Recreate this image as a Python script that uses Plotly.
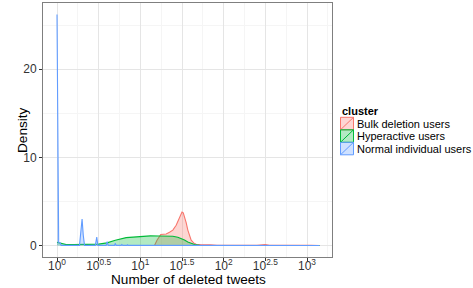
import plotly.graph_objects as go

# ---------------- data (x in log10 of number of deleted tweets) ----------------
clusters = ["Bulk deletion users", "Hyperactive users", "Normal individual users"]
colors = ["#F8766D", "#00BA38", "#619CFF"]
fills = ["rgba(248,118,109,0.3)", "rgba(0,186,56,0.3)", "rgba(97,156,255,0.3)"]

bulk_logx = [1.17, 1.20, 1.245, 1.28, 1.31, 1.35, 1.39, 1.43, 1.46, 1.48, 1.50, 1.515,
             1.53, 1.55, 1.57, 1.59, 1.61, 1.64, 1.67, 1.72, 1.78, 1.84, 1.92, 2.0, 2.1,
             2.2, 2.3, 2.4, 2.47, 2.5, 2.55, 2.65, 2.8, 2.95, 3.05, 3.15]
bulk_density = [0.0, 0.6, 1.25, 1.3, 1.3, 1.5, 1.75, 2.3, 3.0, 3.5, 3.8, 3.7,
                3.25, 2.6, 1.75, 1.1, 0.6, 0.3, 0.15, 0.1, 0.12, 0.09, 0.04, 0.03, 0.05,
                0.02, 0.03, 0.02, 0.08, 0.1, 0.04, 0.02, 0.03, 0.02, 0.03, 0.0]

hyper_logx = [0.0, 0.045, 0.11, 0.2, 0.35, 0.5, 0.6, 0.7, 0.83, 0.99, 1.12, 1.23,
              1.32, 1.39, 1.45, 1.49, 1.53, 1.57, 1.61, 1.65, 1.71, 1.8, 2.2, 2.7, 3.15]
hyper_density = [0.37, 0.26, 0.1, 0.1, 0.13, 0.16, 0.3, 0.6, 0.9, 1.05, 1.09, 1.08,
                 1.07, 1.05, 0.95, 0.8, 0.62, 0.41, 0.22, 0.12, 0.03, 0.01, 0.005, 0.0, 0.0]

normal_logx = [0.0, 0.006, 0.012, 0.02, 0.04, 0.05, 0.27, 0.285, 0.301, 0.315, 0.33,
               0.46, 0.477, 0.49, 0.59, 0.602, 0.615, 0.69, 0.699, 0.71, 0.77, 0.778,
               0.79, 0.84, 0.845, 0.855, 0.895, 0.903, 0.91, 0.95, 0.954, 0.96, 1.0,
               1.5, 2.0, 2.5, 3.0, 3.15]
normal_density = [26.2, 13.0, 1.0, 0.35, 0.3, 0.02, 0.02, 1.2, 3.0, 1.2, 0.02,
                  0.02, 0.95, 0.02, 0.02, 0.45, 0.02, 0.02, 0.25, 0.02, 0.02, 0.12,
                  0.02, 0.02, 0.08, 0.02, 0.02, 0.06, 0.02, 0.02, 0.05, 0.02, 0.02,
                  0.02, 0.02, 0.02, 0.02, 0.0]

x_tick_logs = [0, 0.5, 1, 1.5, 2, 2.5, 3]
x_tick_text = ["10<sup>0</sup>", "10<sup>0.5</sup>", "10<sup>1</sup>", "10<sup>1.5</sup>",
               "10<sup>2</sup>", "10<sup>2.5</sup>", "10<sup>3</sup>"]
x_minor_logs = [0.25, 0.75, 1.25, 1.75, 2.25, 2.75, 3.25]
y_ticks = [0, 10, 20]
y_minor = [5, 15, 25]

series = [(bulk_logx, bulk_density), (hyper_logx, hyper_density), (normal_logx, normal_density)]

# ---------------- figure ----------------
FONT = "Liberation Sans, Arial, Helvetica, sans-serif"
fig = go.Figure()
for (lx, dens), name, col, fc in zip(series, clusters, colors, fills):
    fig.add_trace(go.Scatter(
        x=[10 ** v for v in lx], y=dens, mode="lines", name=name,
        line=dict(color=col, width=1.1), fill="tozeroy", fillcolor=fc,
        showlegend=False, hoverinfo="x+y+name"))

fig.update_layout(
    width=473, height=288,
    margin=dict(l=43, r=141, t=3, b=31, autoexpand=False),
    paper_bgcolor="white", plot_bgcolor="white",
    font=dict(family=FONT, color="#333333", size=11),
    showlegend=False,
    xaxis=dict(
        type="log", range=[-0.168, 3.30], automargin=False,
        tickmode="array", tickvals=[10 ** v for v in x_tick_logs], ticktext=x_tick_text,
        tickfont=dict(size=12, color="#333333"), ticklabelstandoff=-5,
        ticks="outside", ticklen=3, tickcolor="#333333", tickwidth=1,
        showgrid=True, gridcolor="#E5E5E5", gridwidth=1,
        minor=dict(tickmode="array", tickvals=[10 ** v for v in x_minor_logs],
                   showgrid=True, gridcolor="#F5F5F5", gridwidth=1, ticks=""),
        showline=True, linecolor="#7F7F7F", linewidth=1, mirror=True,
        zeroline=False,
    ),
    yaxis=dict(
        range=[-1.3, 27.5], automargin=False,
        tickmode="array", tickvals=y_ticks,
        tickfont=dict(size=12, color="#333333"),
        ticks="outside", ticklen=3, tickcolor="#333333", tickwidth=1,
        showgrid=True, gridcolor="#E5E5E5", gridwidth=1,
        minor=dict(tickmode="array", tickvals=y_minor,
                   showgrid=True, gridcolor="#F5F5F5", gridwidth=1, ticks=""),
        showline=True, linecolor="#7F7F7F", linewidth=1, mirror=True,
        zeroline=False,
    ),
)

# ---------------- axis titles + custom legend (ggplot style) ----------------
def px_x(px):
    return (px - 43) / 289.0

def px_y(py):
    return (257 - py) / 254.0

fig.add_annotation(x=px_x(188), y=px_y(279), xref="paper", yref="paper",
                   text="Number of deleted tweets", showarrow=False,
                   xanchor="center", yanchor="middle", font=dict(size=13.6, color="black"))
fig.add_annotation(x=px_x(22), y=px_y(130), xref="paper", yref="paper",
                   text="Density", showarrow=False, textangle=-90,
                   xanchor="center", yanchor="middle", font=dict(size=13.6, color="black"))

fig.add_annotation(x=px_x(340), y=px_y(110.7), xref="paper", yref="paper",
                   text="<b>cluster</b>", showarrow=False, xanchor="left", yanchor="middle",
                   font=dict(size=11, color="black"))
key_tops = [117.3, 129.8, 142.3]
for name, col, fc, top in zip(clusters, colors, fills, key_tops):
    bot = top + 12.5
    fig.add_shape(type="rect", xref="paper", yref="paper",
                  x0=px_x(340.5), x1=px_x(353.5), y0=px_y(bot), y1=px_y(top),
                  fillcolor=fc, line=dict(color=col, width=1))
    fig.add_shape(type="line", xref="paper", yref="paper",
                  x0=px_x(340.5), x1=px_x(353.5), y0=px_y(bot), y1=px_y(top),
                  line=dict(color=col, width=1))
    fig.add_annotation(x=px_x(354.5), y=px_y((top + bot) / 2), xref="paper", yref="paper",
                       text=name, showarrow=False, xanchor="left", yanchor="middle",
                       font=dict(size=11, color="black"))

fig.write_html("out.html", config={"displayModeBar": False},
               post_script="document.body.style.margin='0';document.body.style.overflow='hidden';")
